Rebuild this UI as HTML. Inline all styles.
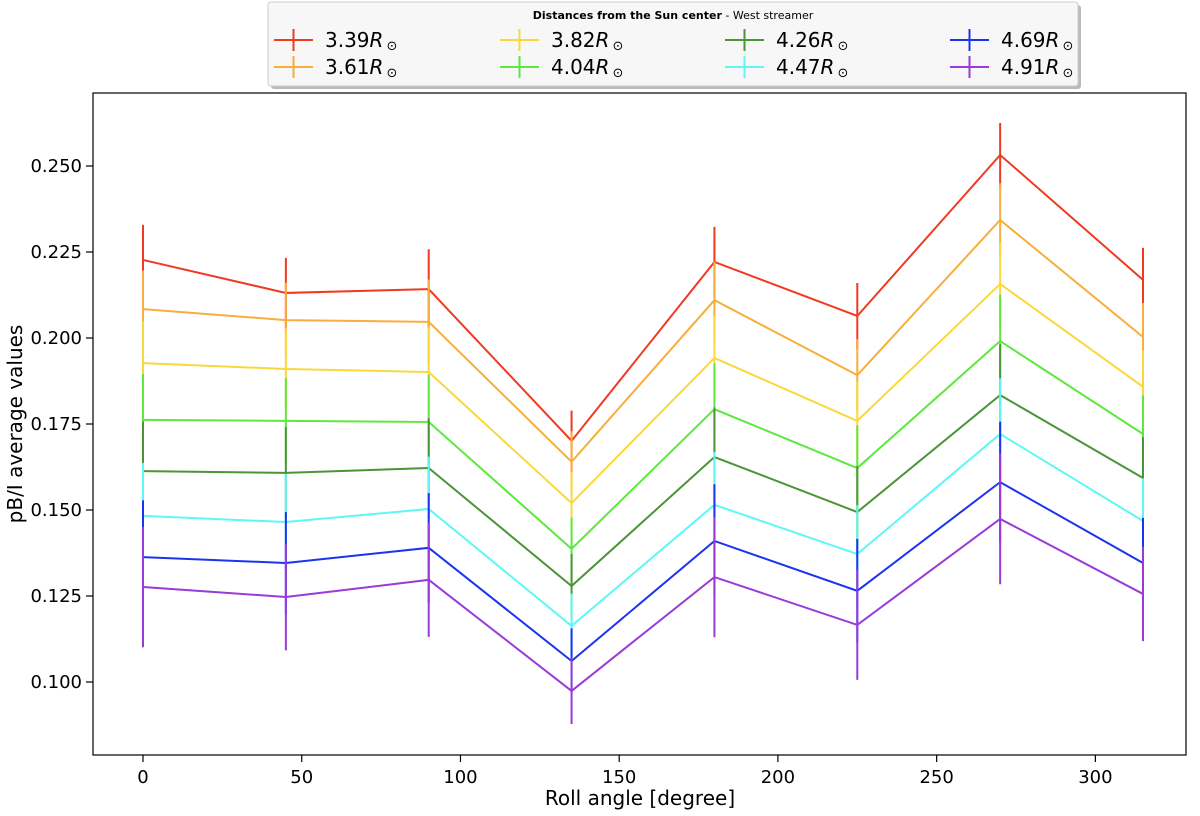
<!DOCTYPE html>
<html><head><meta charset="utf-8"><style>
body{margin:0;background:#fff;}
svg text{font-family:"DejaVu Sans","Liberation Sans",sans-serif;}
</style></head><body>
<svg id="chart" width="1200" height="811" xmlns="http://www.w3.org/2000/svg">
<g id="plot"></g>
<g id="axes"></g>
<g id="legend"></g>
</svg>
<script>
const angles=[0,45,90,135,180,225,270,315];
const labels=['3.39','3.61','3.82','4.04','4.26','4.47','4.69','4.91'];
const colors=['#f03a22','#f7ae3a','#fad83c','#5de83c','#4a9537','#5df7f7','#1a34f0','#9a3ad8'];
const s0=[0.2227,0.2131,0.2142,0.1701,0.2221,0.2064,0.2532,0.2169];
const s1=[0.2084,0.2052,0.2047,0.1640,0.2110,0.1892,0.2343,0.2003];
const s2=[0.1927,0.1910,0.1901,0.1520,0.1942,0.1759,0.2157,0.1858];
const s3=[0.1762,0.1759,0.1756,0.1387,0.1793,0.1622,0.1991,0.1721];
const s4=[0.1613,0.1608,0.1622,0.1279,0.1654,0.1494,0.1834,0.1593];
const s5=[0.1483,0.1465,0.1503,0.1163,0.1515,0.1372,0.1721,0.1468];
const s6=[0.1363,0.1346,0.1390,0.1061,0.1410,0.1265,0.1581,0.1346];
const s7=[0.1276,0.1247,0.1297,0.0974,0.1305,0.1166,0.1474,0.1256];
const series=[s0,s1,s2,s3,s4,s5,s6,s7];
const e0=[0.0102,0.0102,0.0116,0.0088,0.0102,0.0096,0.0093,0.0093];
const e1=[0.0112,0.0109,0.0123,0.0089,0.0112,0.0105,0.0107,0.0099];
const e2=[0.0123,0.0117,0.0131,0.0090,0.0123,0.0115,0.0121,0.0106];
const e3=[0.0133,0.0124,0.0137,0.0091,0.0133,0.0124,0.0135,0.0112];
const e4=[0.0144,0.0133,0.0145,0.0093,0.0144,0.0133,0.0148,0.0118];
const e5=[0.0154,0.0140,0.0152,0.0094,0.0154,0.0142,0.0162,0.0124];
const e6=[0.0165,0.0148,0.0159,0.0095,0.0165,0.0151,0.0176,0.0131];
const e7=[0.0175,0.0155,0.0166,0.0096,0.0175,0.0160,0.0190,0.0137];
const errs=[e0,e1,e2,e3,e4,e5,e6,e7];
const xTicks=[0,50,100,150,200,250,300];
const yTicks=[0.100,0.125,0.150,0.175,0.200,0.225,0.250];
const yTickLabels=['0.100','0.125','0.150','0.175','0.200','0.225','0.250'];
const NS='http://www.w3.org/2000/svg';
const X=v=>143+v*3.1746;
const Y=v=>682-(v-0.1)*3440;
function mk(tag,attrs,parent){const e=document.createElementNS(NS,tag);for(const k in attrs)e.setAttribute(k,attrs[k]);parent.appendChild(e);return e;}
const plot=document.getElementById('plot'),axes=document.getElementById('axes'),leg=document.getElementById('legend');
series.forEach((s,i)=>{
  const g=mk('g',{},plot);
  
  
  const pl=mk('polyline',{points:s.map((v,j)=>X(angles[j])+','+Y(v)).join(' '),fill:'none',stroke:colors[i],'stroke-width':2},g);
  
  
  s.forEach((v,j)=>{
    const l=mk('line',{x1:X(angles[j]),x2:X(angles[j]),y1:Y(v+errs[i][j]),y2:Y(v-errs[i][j]),stroke:colors[i],'stroke-width':2},g);
    
    
  });
});
const fr=mk('rect',{x:93,y:93,width:1093,height:662,fill:'none',stroke:'#000','stroke-width':1.2},axes);


xTicks.forEach(t=>{
  mk('line',{x1:X(t),x2:X(t),y1:755,y2:762,stroke:'#000','stroke-width':1.2},axes);
  const tx=mk('text',{x:X(t),y:783,'font-size':18,'text-anchor':'middle'},axes);tx.textContent=t;
  
  
});
yTicks.forEach((t,i)=>{
  mk('line',{x1:86,x2:93,y1:Y(t),y2:Y(t),stroke:'#000','stroke-width':1.2},axes);
  const tx=mk('text',{x:82,y:Y(t)+6,'font-size':18,'text-anchor':'end'},axes);tx.textContent=yTickLabels[i];
  
  
});
const xt=mk('text',{x:640,y:805,'font-size':20,'text-anchor':'middle'},axes);xt.textContent='Roll angle [degree]';


const yt=mk('text',{x:0,y:0,'font-size':20,'text-anchor':'middle',transform:'translate(22,424) rotate(-90)'},axes);yt.textContent='pB/I average values';


// legend
mk('rect',{x:271,y:5,width:810,height:84,rx:3,fill:'#bbb'},leg);
const lb=mk('rect',{x:268,y:2,width:810,height:84,rx:3,fill:'#f7f7f7',stroke:'#ccc'},leg);


const lt=mk('text',{x:673,y:19,'font-size':11,'text-anchor':'middle'},leg);
lt.innerHTML='<tspan font-weight="bold">Distances from the Sun center</tspan> - West streamer';


const colX=[274,500,725,950];
labels.forEach((lab,i)=>{
  const cx=colX[Math.floor(i/2)],cy=i%2===0?40:67;
  const g=mk('g',{},leg);
  
  
  mk('line',{x1:cx,x2:cx+39,y1:cy,y2:cy,stroke:colors[i],'stroke-width':2},g);
  mk('line',{x1:cx+19.5,x2:cx+19.5,y1:cy-11,y2:cy+11,stroke:colors[i],'stroke-width':2},g);
  const t=mk('text',{x:cx+51,y:cy+7,'font-size':20},g);
  t.innerHTML=lab+'<tspan font-style="italic">R</tspan><tspan font-size="13" dx="3" dy="3">⊙</tspan>';
});
</script>
</body></html>
